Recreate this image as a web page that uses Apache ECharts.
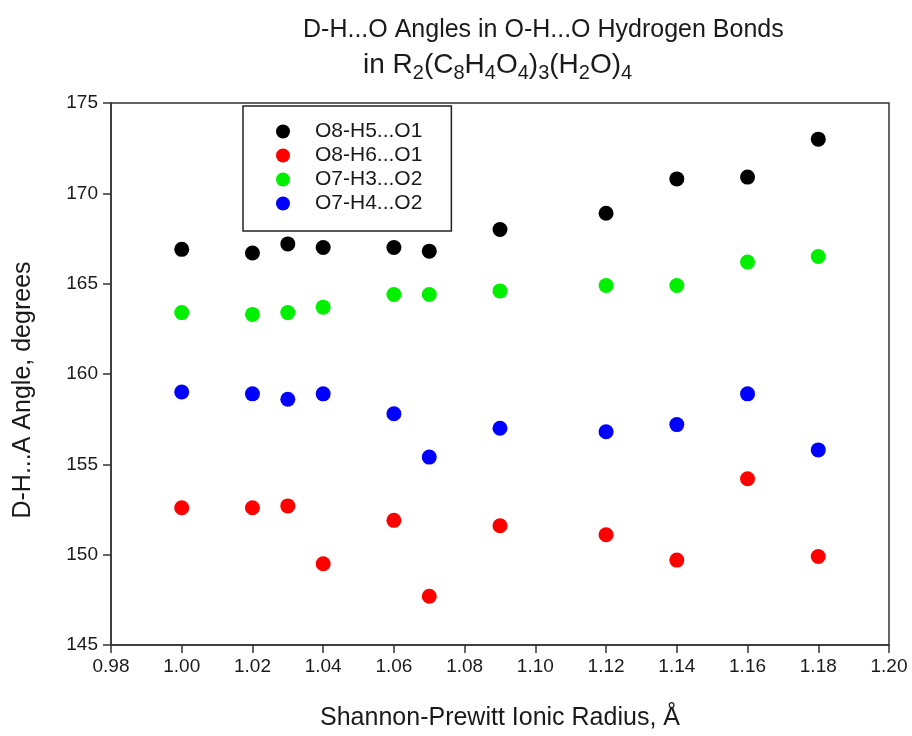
<!DOCTYPE html>
<html>
<head>
<meta charset="utf-8">
<script src="https://cdn.jsdelivr.net/npm/echarts@6/dist/echarts.min.js"></script>
<style>html,body{margin:0;padding:0;background:#fff;}#c{width:912px;height:736px;}</style>
</head>
<body>
<div id="c"></div>
<script>
var radius = [1.00, 1.02, 1.03, 1.04, 1.06, 1.07, 1.09, 1.12, 1.14, 1.16, 1.18];
var seriesNames = ['O8-H5...O1', 'O8-H6...O1', 'O7-H3...O2', 'O7-H4...O2'];
var o8h5 = [166.9, 166.7, 167.2, 167.0, 167.0, 166.8, 168.0, 168.9, 170.8, 170.9, 173.0];
var o8h6 = [152.6, 152.6, 152.7, 149.5, 151.9, 147.7, 151.6, 151.1, 149.7, 154.2, 149.9];
var o7h3 = [163.4, 163.3, 163.4, 163.7, 164.4, 164.4, 164.6, 164.9, 164.9, 166.2, 166.5];
var o7h4 = [159.0, 158.9, 158.6, 158.9, 157.8, 155.4, 157.0, 156.8, 157.2, 158.9, 155.8];
var seriesValues = [o8h5, o8h6, o7h3, o7h4];
var colors = ['#000000', '#ff0000', '#00f000', '#0000ff'];

var FONT = '"Liberation Sans", Arial, sans-serif';
var chart = echarts.init(document.getElementById('c'));

function pairs(vals) {
  return radius.map(function (x, i) { return [x, vals[i]]; });
}

var series = seriesNames.map(function (name, k) {
  return {
    name: name,
    type: 'scatter',
    symbol: 'circle',
    symbolSize: 15,
    itemStyle: { color: colors[k], opacity: 1 },
    data: pairs(seriesValues[k]),
    z: 3
  };
});

chart.setOption({
  animation: false,
  backgroundColor: '#ffffff',
  title: [
    {
      text: 'D-H...O Angles in O-H...O Hydrogen Bonds',
      left: 298, top: 13,
      textStyle: { fontFamily: FONT, fontSize: 25, fontWeight: 'normal', color: '#1a1a1a' }
    },
    {
      text: '{n|in R}{s|2}{n|(C}{s|8}{n|H}{s|4}{n|O}{s|4}{n|)}{s|3}{n|(H}{s|2}{n|O)}{s|4}',
      left: 358, top: 42,
      textStyle: {
        fontFamily: FONT, fontSize: 28, fontWeight: 'normal', color: '#1a1a1a',
        rich: {
          n: { fontFamily: FONT, fontSize: 28, color: '#1a1a1a', lineHeight: 36, verticalAlign: 'middle' },
          s: { fontFamily: FONT, fontSize: 20, color: '#1a1a1a', lineHeight: 20, verticalAlign: 'bottom' }
        }
      }
    }
  ],
  legend: {
    orient: 'vertical',
    left: 243, top: 106,
    padding: [15, 29, 17, 33],
    itemGap: 3,
    itemWidth: 54, itemHeight: 14,
    icon: 'circle',
    borderColor: '#222',
    borderWidth: 1.5,
    backgroundColor: '#ffffff',
    data: seriesNames,
    textStyle: { fontFamily: FONT, fontSize: 21, color: '#1a1a1a' }
  },
  grid: {
    left: 111, right: 23, top: 103, bottom: 89,
    show: true, borderColor: '#333', borderWidth: 1.5, backgroundColor: 'transparent'
  },
  xAxis: {
    type: 'value',
    min: 0.98, max: 1.20, interval: 0.02,
    name: 'Shannon-Prewitt Ionic Radius, \u00c5',
    nameLocation: 'middle', nameGap: 61,
    nameTextStyle: { fontFamily: FONT, fontSize: 25, color: '#1a1a1a' },
    axisLine: { show: true, lineStyle: { color: '#333', width: 1.5 } },
    axisTick: { show: true, inside: false, length: 8, lineStyle: { color: '#333', width: 1.5 } },
    axisLabel: {
      fontFamily: FONT, fontSize: 19, color: '#1a1a1a', margin: 12,
      formatter: function (v) { return v.toFixed(2); }
    },
    splitLine: { show: false }
  },
  yAxis: {
    type: 'value',
    min: 145, max: 175, interval: 5,
    name: 'D-H...A Angle, degrees',
    nameLocation: 'middle', nameGap: 75,
    nameTextStyle: { fontFamily: FONT, fontSize: 25, color: '#1a1a1a', padding: [0, 32, 0, 0] },
    axisLine: { show: true, lineStyle: { color: '#333', width: 1.5 } },
    axisTick: { show: true, inside: false, length: 8, lineStyle: { color: '#333', width: 1.5 } },
    axisLabel: { fontFamily: FONT, fontSize: 19, color: '#1a1a1a', margin: 13 },
    splitLine: { show: false }
  },
  series: series
});
</script>
</body>
</html>
